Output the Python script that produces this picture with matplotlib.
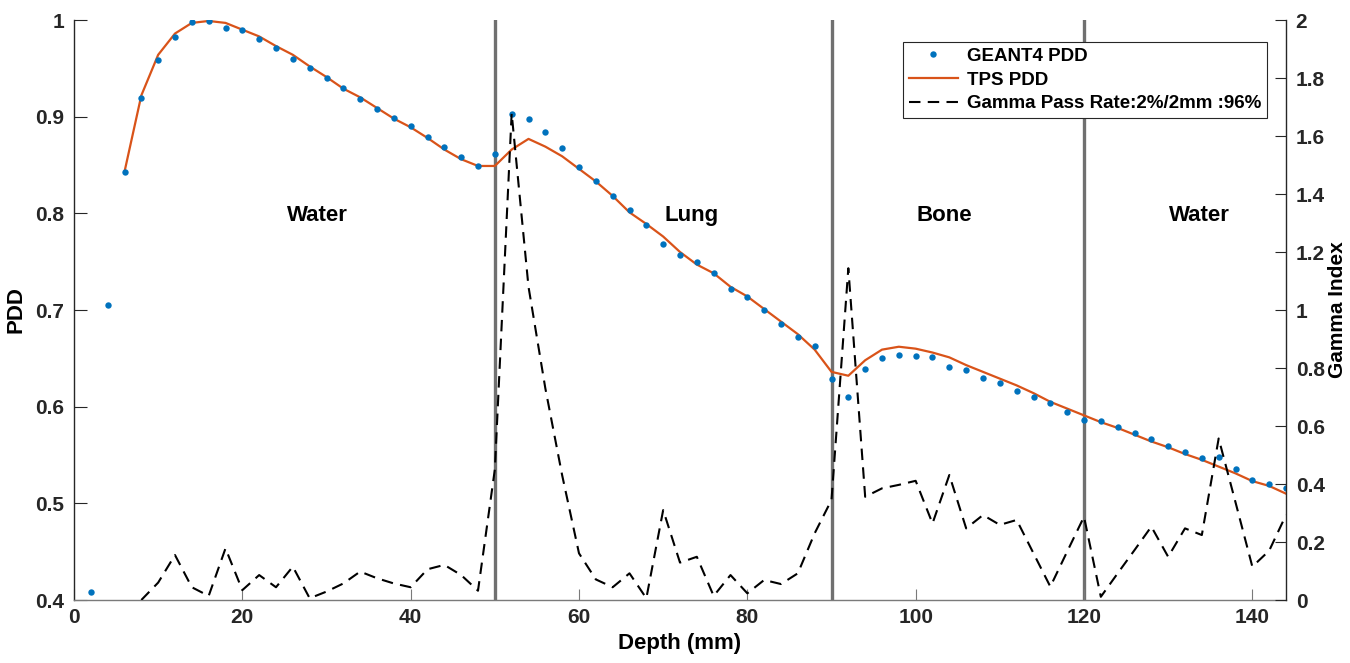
import matplotlib
matplotlib.use("Agg")
import matplotlib.pyplot as plt
import numpy as np

plt.rcParams['font.family'] = ['Liberation Sans', 'DejaVu Sans']
plt.rcParams['font.weight'] = 'bold'

# ---- data ----
geant_depth = list(range(2, 145, 2))
geant_pdd = [0.408, 0.705, 0.843, 0.919, 0.959, 0.982, 0.998, 0.999, 0.992, 0.990,
             0.980, 0.971, 0.960, 0.950, 0.940, 0.930, 0.918, 0.908, 0.899, 0.890,
             0.879, 0.869, 0.858, 0.849, 0.861, 0.903, 0.898, 0.884, 0.868, 0.848,
             0.833, 0.818, 0.803, 0.788, 0.768, 0.757, 0.750, 0.738, 0.722, 0.713,
             0.700, 0.686, 0.672, 0.663, 0.629, 0.610, 0.639, 0.650, 0.653, 0.652,
             0.651, 0.641, 0.638, 0.630, 0.624, 0.616, 0.610, 0.604, 0.594, 0.586,
             0.585, 0.579, 0.573, 0.567, 0.559, 0.553, 0.547, 0.548, 0.536, 0.524,
             0.520, 0.516]

tps_depth = list(range(6, 145, 2))
tps_pdd = [0.843, 0.922, 0.964, 0.986, 0.997, 0.999, 0.997, 0.990, 0.983, 0.973,
           0.964, 0.952, 0.941, 0.929, 0.920, 0.909, 0.898, 0.889, 0.878, 0.866,
           0.856, 0.849, 0.849, 0.866, 0.877, 0.869, 0.859, 0.846, 0.833, 0.818,
           0.801, 0.789, 0.776, 0.760, 0.747, 0.738, 0.724, 0.714, 0.701, 0.688,
           0.675, 0.659, 0.636, 0.632, 0.648, 0.659, 0.662, 0.660, 0.656, 0.651,
           0.643, 0.636, 0.629, 0.622, 0.614, 0.605, 0.598, 0.591, 0.584, 0.578,
           0.571, 0.564, 0.558, 0.551, 0.545, 0.538, 0.531, 0.523, 0.518, 0.510]

gamma_depth = list(range(8, 145, 2))
gamma_index = [0.0, 0.06, 0.155, 0.044, 0.014, 0.178, 0.034, 0.086, 0.044, 0.115,
               0.006, 0.029, 0.057, 0.098, 0.075, 0.057, 0.044, 0.106, 0.121, 0.086,
               0.032, 0.45, 1.678, 1.08, 0.73, 0.43, 0.161, 0.071, 0.044, 0.092,
               0.006, 0.31, 0.129, 0.149, 0.014, 0.086, 0.023, 0.069, 0.055, 0.092,
               0.23, 0.345, 1.144, 0.356, 0.385, 0.397, 0.411, 0.264, 0.431, 0.247,
               0.293, 0.259, 0.276, 0.161, 0.046, 0.167, 0.287, 0.011, 0.092, 0.172,
               0.253, 0.149, 0.247, 0.224, 0.557, 0.337, 0.115, 0.17, 0.293]

boundaries = [50, 90, 120]
region_names = ["Water", "Lung", "Bone", "Water"]
region_x = [28.9, 73.4, 103.4, 133.7]
region_y = 0.798

xticks = [0, 20, 40, 60, 80, 100, 120, 140]
left_ticks = [0.4, 0.5, 0.6, 0.7, 0.8, 0.9, 1.0]
left_labels = ["0.4", "0.5", "0.6", "0.7", "0.8", "0.9", "1"]
right_ticks = [0, 0.2, 0.4, 0.6, 0.8, 1.0, 1.2, 1.4, 1.6, 1.8, 2.0]
right_labels = ["0", "0.2", "0.4", "0.6", "0.8", "1", "1.2", "1.4", "1.6", "1.8", "2"]

# ---- figure ----
fig = plt.figure(figsize=(13.5, 6.63), dpi=100)
ax = fig.add_axes([74/1350, 1-600/663, (1286-74)/1350, 580/663])
ax2 = ax.twinx()

for b in boundaries:
    ax.axvline(b, color='#707070', lw=2.4, zorder=1)

h1, = ax.plot(geant_depth, geant_pdd, 'o', color='#0072BD', ms=4.6, mew=0,
              zorder=3, label='GEANT4 PDD')
h2, = ax.plot(tps_depth, tps_pdd, '-', color='#D95319', lw=1.6, zorder=2,
              label='TPS PDD')
h3, = ax2.plot(gamma_depth, gamma_index, color='black', lw=1.5,
               linestyle=(0, (5.5, 3.5)), label='Gamma Pass Rate:2%/2mm :96%')

for name, xx in zip(region_names, region_x):
    ax.text(xx, region_y, name, ha='center', va='center', fontsize=16,
            fontweight='bold')

ax.set_xlim(0, 144)
ax.set_ylim(0.4, 1.0)
ax2.set_ylim(0, 2)
ax.set_xticks(xticks)
ax.set_xticklabels([str(v) for v in xticks])
ax.set_yticks(left_ticks)
ax.set_yticklabels(left_labels)
ax2.set_yticks(right_ticks)
ax2.set_yticklabels(right_labels)

for a in (ax, ax2):
    a.spines['top'].set_visible(False)
ax2.spines['left'].set_visible(False)
ax2.spines['bottom'].set_visible(False)
ax.spines['right'].set_visible(False)
ax.spines['left'].set_color('#262626')
ax2.spines['right'].set_color('#262626')
ax.spines['bottom'].set_color('#7a7a7a')
for a in (ax, ax2):
    for s in a.spines.values():
        s.set_linewidth(1.0)

ax.tick_params(axis='x', direction='in', length=8, width=0.8, colors='#7a7a7a',
               labelcolor='#262626', labelsize=15, pad=6)
ax.tick_params(axis='y', direction='in', length=9, width=0.8, colors='#262626',
               labelsize=15, pad=7)
ax2.tick_params(axis='y', direction='in', length=8, width=0.8, colors='#262626',
                labelsize=15, pad=7)
for lab in ax.get_xticklabels() + ax.get_yticklabels() + ax2.get_yticklabels():
    lab.set_fontweight('bold')

ax.set_xlabel('Depth (mm)', fontsize=16, fontweight='bold', labelpad=4)
ax.set_ylabel('PDD', fontsize=16, fontweight='bold', labelpad=6)
ax2.set_ylabel('Gamma Index', fontsize=15, fontweight='bold', labelpad=2)

leg = ax2.legend(handles=[h1, h2, h3], loc='upper right',
                 bbox_to_anchor=(0.992, 0.978), fontsize=13.5, frameon=True,
                 fancybox=False, edgecolor='#262626', framealpha=1,
                 handlelength=2.6, handletextpad=0.5, borderpad=0.3,
                 labelspacing=0.35, markerscale=1.0)
leg.get_frame().set_linewidth(0.8)
for t in leg.get_texts():
    t.set_fontweight('bold')
leg.set_zorder(10)

fig.savefig('out.png', dpi=100)
